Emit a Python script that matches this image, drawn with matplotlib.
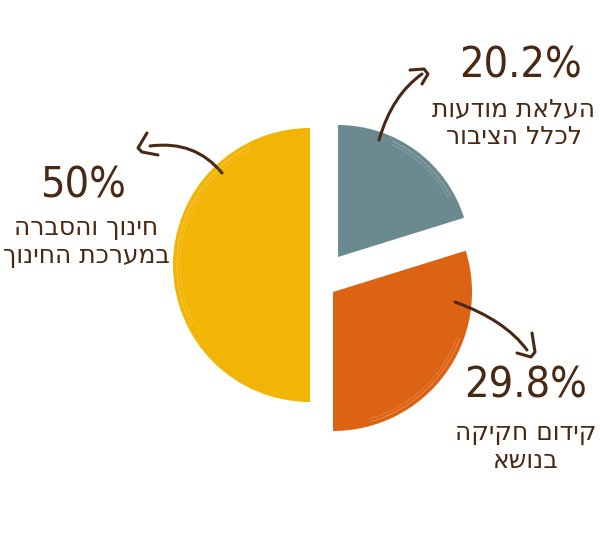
import matplotlib
matplotlib.use("Agg")
import matplotlib.pyplot as plt
from matplotlib.patches import Wedge
from matplotlib.path import Path
from matplotlib.patches import PathPatch
import numpy as np

# ---- data ----
labels = ["העלאת מודעות\nלכלל הציבור", "קידום חקיקה\nבנושא", "חינוך והסברה\nבמערכת החינוך"]
values = [20.2, 29.8, 50.0]
pct_labels = ["20.2%", "29.8%", "50%"]
colors = ["#6B8A8F", "#DD6314", "#F2B505"]

BROWN = "#4A2914"
W, H = 600, 534

def rtl(s):
    return "\n".join(line[::-1] for line in s.split("\n"))

fig = plt.figure(figsize=(W / 100, H / 100), dpi=100)
ax = fig.add_axes([0, 0, 1, 1])
ax.set_xlim(0, W)
ax.set_ylim(0, H)
ax.set_aspect("equal")
ax.axis("off")

def P(x, y):
    return (x, H - y)

# wedge centres / radii (pixel positions, layout only)
centers = [P(338, 257), P(333, 292), P(310, 265)]
radii = [132, 139, 137]

total = sum(values)
start = 90.0
for v, c, cen, r in zip(values, colors, centers, radii):
    sweep = 360.0 * v / total
    t1, t2 = start - sweep, start
    ax.add_patch(Wedge(cen, r, t1, t2, facecolor=c, edgecolor="none"))
    # brush-like light strokes near the rim
    for k, a in enumerate([0.55, 0.35]):
        rr = r - 4 - 3 * k
        th = np.linspace(np.radians(t1 + sweep * 0.15), np.radians(t2 - sweep * 0.35), 50)
        ax.plot(cen[0] + rr * np.cos(th), cen[1] + rr * np.sin(th),
                color="white", lw=0.6, alpha=a * 0.5, solid_capstyle="round")
    start = t1

# text
txt_pos = [(520, 66, 514, 123), (526, 386, 526, 447), (83, 186, 86, 242)]
for pl, lb, (px, py, lx, ly) in zip(pct_labels, labels, txt_pos):
    ax.text(*P(px, py), pl, ha="center", va="center", fontsize=31,
            color=BROWN, family="DejaVu Sans", fontstretch="condensed")
    ax.text(*P(lx, ly), rtl(lb), ha="center", va="center", fontsize=18,
            color=BROWN, family=["DejaVu Sans"], linespacing=1.25)

# arrows (curved lines with hook heads)
def curve(p0, p1, p2):
    path = Path([P(*p0), P(*p1), P(*p2)], [Path.MOVETO, Path.CURVE3, Path.CURVE3])
    ax.add_patch(PathPatch(path, facecolor="none", edgecolor=BROWN, lw=2.2,
                           capstyle="round"))

def hook(pts):
    xs = [P(*p)[0] for p in pts]
    ys = [P(*p)[1] for p in pts]
    ax.plot(xs, ys, color=BROWN, lw=2.2, solid_capstyle="round", solid_joinstyle="round")

# teal
curve((379, 140), (392, 95), (422, 74))
hook([(410, 70), (424, 69), (428, 74), (422, 84)])
# yellow
curve((222, 173), (195, 140), (150, 146))
hook([(147, 133), (138, 148), (142, 152), (158, 155)])
# orange
curve((455, 302), (505, 320), (527, 350))
hook([(532, 333), (535, 352), (531, 357), (517, 353)])

fig.savefig("out.png", dpi=100)
